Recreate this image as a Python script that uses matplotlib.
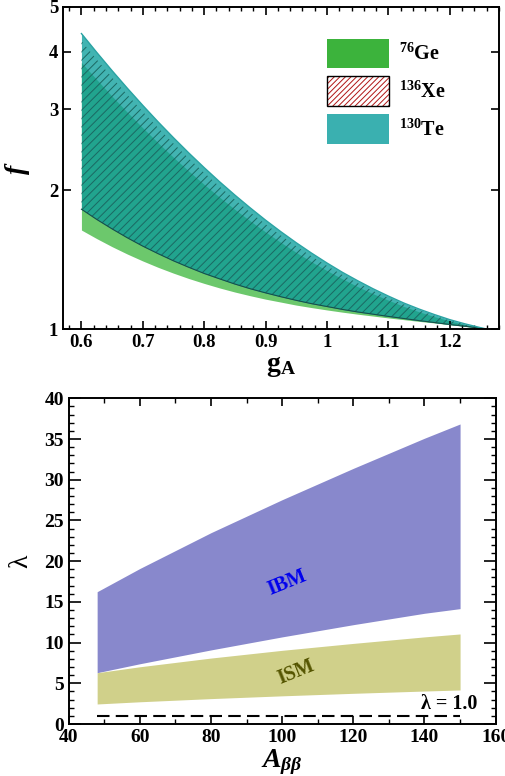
import numpy as np
import matplotlib
matplotlib.use("Agg")
import matplotlib.pyplot as plt
from matplotlib.patches import Patch
from matplotlib.legend_handler import HandlerTuple
from matplotlib.ticker import MultipleLocator, FixedLocator, NullLocator

plt.rcParams['font.family'] = ['Liberation Serif', 'DejaVu Serif']
plt.rcParams['font.weight'] = 'bold'
plt.rcParams['mathtext.fontset'] = 'custom'
plt.rcParams['mathtext.rm'] = 'Liberation Serif:bold'
plt.rcParams['mathtext.bf'] = 'Liberation Serif:bold'
plt.rcParams['mathtext.it'] = 'Liberation Serif:bold:italic'
plt.rcParams['hatch.linewidth'] = 0.7

# ---- top panel: f vs g_A ----
g_a = [0.600, 0.625, 0.650, 0.675, 0.700, 0.725, 0.750, 0.775, 0.800, 0.825,
       0.850, 0.875, 0.900, 0.925, 0.950, 0.975, 1.000, 1.025, 1.050, 1.075,
       1.100, 1.125, 1.150, 1.175, 1.200, 1.225, 1.250, 1.260]
te_hi = [4.378, 3.984, 3.636, 3.329, 3.057, 2.815, 2.601, 2.410, 2.240, 2.088,
         1.953, 1.832, 1.723, 1.626, 1.539, 1.461, 1.391, 1.328, 1.273, 1.223,
         1.179, 1.139, 1.105, 1.075, 1.048, 1.026, 1.007, 1.000]
te_lo = [1.820, 1.729, 1.649, 1.577, 1.513, 1.457, 1.406, 1.361, 1.320, 1.285,
         1.252, 1.223, 1.198, 1.175, 1.154, 1.135, 1.119, 1.103, 1.089, 1.077,
         1.065, 1.054, 1.043, 1.033, 1.023, 1.014, 1.004, 1.000]
xe_hi = [4.219, 3.844, 3.514, 3.221, 2.962, 2.732, 2.527, 2.345, 2.183, 2.038,
         1.908, 1.792, 1.688, 1.596, 1.512, 1.438, 1.371, 1.311, 1.258, 1.210,
         1.168, 1.131, 1.098, 1.069, 1.045, 1.024, 1.006, 1.000]
xe_lo = te_lo
ge_hi = [3.789, 3.477, 3.199, 2.952, 2.732, 2.535, 2.358, 2.201, 2.059, 1.932,
         1.818, 1.716, 1.624, 1.541, 1.466, 1.399, 1.339, 1.285, 1.236, 1.193,
         1.155, 1.120, 1.090, 1.064, 1.041, 1.022, 1.006, 1.000]
ge_lo = [1.640, 1.571, 1.509, 1.454, 1.405, 1.361, 1.322, 1.287, 1.256, 1.228,
         1.203, 1.181, 1.161, 1.144, 1.127, 1.113, 1.100, 1.088, 1.077, 1.067,
         1.057, 1.048, 1.039, 1.031, 1.022, 1.013, 1.004, 1.000]
labels_top = [r'$^{76}$Ge', r'$^{136}$Xe', r'$^{130}$Te']

# ---- bottom panel: lambda vs A ----
a_bb = [48, 60, 80, 100, 120, 140, 150]
ibm_hi = [16.25, 19.1, 23.5, 27.55, 31.4, 35.1, 36.85]
ibm_lo = [6.3, 7.4, 9.1, 10.7, 12.2, 13.6, 14.17]
ism_hi = [6.3, 7.03, 8.1, 9.05, 9.9, 10.7, 11.06]
ism_lo = [2.46, 2.73, 3.12, 3.46, 3.77, 4.05, 4.18]
lam_ref = 1.0

fig = plt.figure(figsize=(5.05, 7.76), dpi=100)

ax1 = fig.add_axes([0.1248, 0.576, 0.863, 0.415])
ax1.fill_between(g_a, ge_lo, ge_hi, color='#6cc86c', lw=0)
ax1.fill_between(g_a, te_lo, te_hi, color='#42b4b2', lw=0)
ax1.fill_between(g_a, te_lo, ge_hi, color='#21a48e', lw=0)
ax1.fill_between(g_a, xe_lo, xe_hi, facecolor='none', edgecolor='#1b6862',
                 hatch='////', lw=0)
ax1.plot(g_a, te_lo, color='#174f4a', lw=0.8)
ax1.plot(g_a, te_hi, color='#2aa3a3', lw=1.0)

ax1.set_yscale('log')
ax1.set_xlim(0.57, 1.28)
ax1.set_ylim(1, 5)
ax1.yaxis.set_major_locator(FixedLocator([1, 2, 3, 4, 5]))
ax1.yaxis.set_minor_locator(NullLocator())
ax1.set_yticklabels(['1', '2', '3', '4', '5'])
ax1.xaxis.set_major_locator(FixedLocator([0.6, 0.7, 0.8, 0.9, 1.0, 1.1, 1.2]))
ax1.set_xticklabels(['0.6', '0.7', '0.8', '0.9', '1', '1.1', '1.2'])
ax1.xaxis.set_minor_locator(MultipleLocator(0.02))
ax1.tick_params(which='both', direction='in', top=True, right=True, labelsize=13.5)
ax1.tick_params(which='major', length=6, width=1.2)
ax1.tick_params(which='minor', length=3, width=1.0)
ax1.set_xlabel(r'$\mathrm{g}_\mathrm{A}$', fontsize=20, labelpad=2)
ax1.set_ylabel(r'$f$', fontsize=20, labelpad=12)
for s in ax1.spines.values():
    s.set_linewidth(1.4)

h_ge = Patch(facecolor='#3cb33c', edgecolor='none')
h_xe = (Patch(facecolor='white', edgecolor='#b01515', hatch='//////', lw=0),
        Patch(facecolor='none', edgecolor='black', lw=1.0))
h_te = Patch(facecolor='#3ab0b0', edgecolor='none')
ax1.legend([h_ge, h_xe, h_te], labels_top, handler_map={tuple: HandlerTuple(ndivide=1)},
           loc='upper left', bbox_to_anchor=(0.605, 0.902), frameon=False,
           fontsize=14.5, handlelength=3.1, handleheight=1.9, labelspacing=0.4,
           handletextpad=0.5, borderpad=0, borderaxespad=0)

ax2 = fig.add_axes([0.136, 0.067, 0.8455, 0.4197])
ax2.fill_between(a_bb, ibm_lo, ibm_hi, color='#8888cc', lw=0)
ax2.fill_between(a_bb, ism_lo, ism_hi, color='#d0d08a', lw=0)
ax2.plot([a_bb[0], a_bb[-1]], [lam_ref, lam_ref], color='black', lw=1.5, dashes=(6, 3))
ax2.text(101.5, 17.3, 'IBM', color='#0000ee', fontsize=14.5, rotation=22,
         ha='center', va='center')
ax2.text(104, 6.4, 'ISM', color='#555500', fontsize=14.5, rotation=22,
         ha='center', va='center')
ax2.text(139, 1.2, 'λ = 1.0', fontsize=14.5, ha='left', va='bottom')

ax2.set_xlim(40, 160)
ax2.set_ylim(0, 40)
ax2.xaxis.set_major_locator(MultipleLocator(20))
ax2.xaxis.set_minor_locator(MultipleLocator(10))
ax2.yaxis.set_major_locator(MultipleLocator(5))
ax2.yaxis.set_minor_locator(MultipleLocator(1))
ax2.tick_params(which='both', direction='in', top=True, right=True, labelsize=14)
ax2.tick_params(axis='x', which='major', length=6, width=1.2)
ax2.tick_params(axis='y', which='major', length=8.5, width=1.2)
ax2.tick_params(which='minor', length=3.5, width=1.0)
ax2.set_xlabel(r'$A_{\beta\beta}$', fontsize=20, labelpad=1)
ax2.set_ylabel('λ', fontsize=20, fontweight='normal', labelpad=8)
for s in ax2.spines.values():
    s.set_linewidth(1.4)

fig.savefig('out.png', dpi=100)
